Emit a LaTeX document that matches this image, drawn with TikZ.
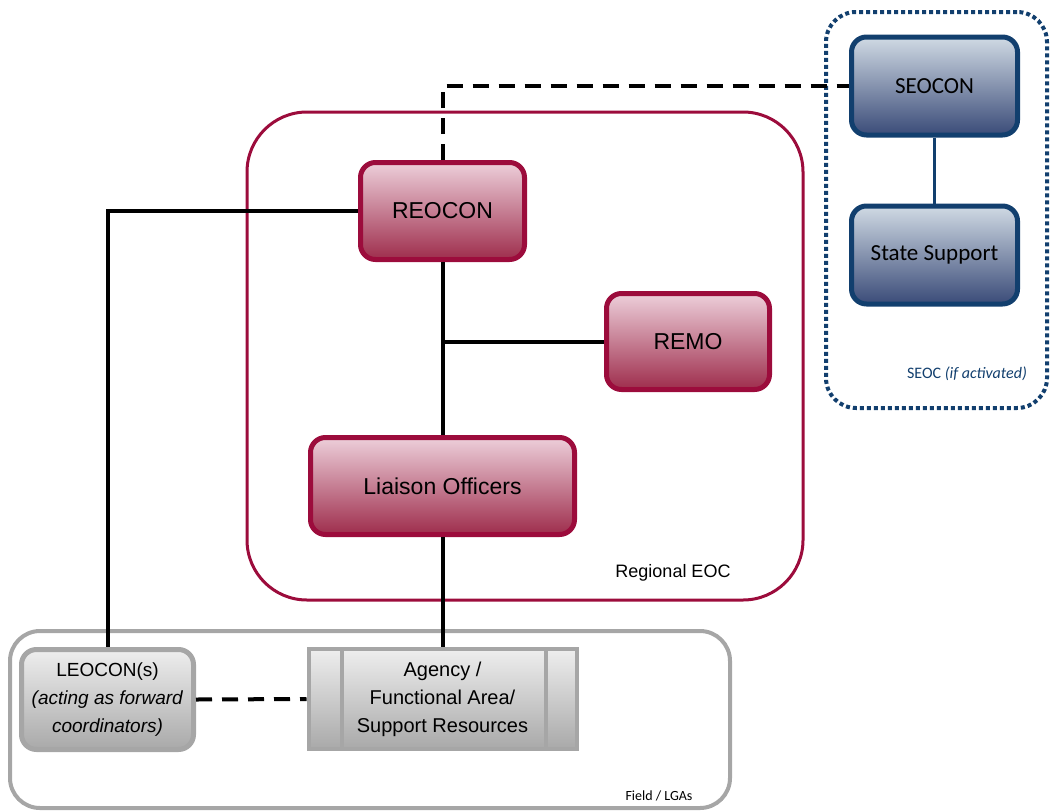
\documentclass[tikz,border=0pt]{standalone}
\usepackage{fontspec}
\setmainfont{Liberation Sans}
\newfontfamily\calibrifont{Carlito}
\definecolor{crim}{HTML}{9C0C3C}
\definecolor{crimtop}{HTML}{EDCFDA}
\definecolor{crimbot}{HTML}{9E2D4C}
\definecolor{navy}{HTML}{123F6E}
\definecolor{navytop}{HTML}{D0DAE4}
\definecolor{navybot}{HTML}{3A4B78}
\definecolor{gborder}{HTML}{A6A6A6}
\definecolor{gtop}{HTML}{EEEEEE}
\definecolor{gbot}{HTML}{A9A9A9}
\begin{document}
\begin{tikzpicture}[x=1pt,y=-1pt,
  redbox/.style={draw=crim, line width=5pt, rounded corners=15pt, top color=crimtop, bottom color=crimbot, inner sep=0pt, font=\fontsize{23}{27}\selectfont},
  bluebox/.style={draw=navy, line width=5pt, rounded corners=15pt, top color=navytop, bottom color=navybot, inner sep=0pt, font=\calibrifont\fontsize{23}{27}\selectfont},
  greybox/.style={draw=gborder, line width=5pt, rounded corners=15pt, top color=gtop, bottom color=gbot, inner sep=0pt, align=center, font=\fontsize{19}{28}\selectfont},
  conn/.style={line width=4pt, black},
  dconn/.style={line width=4pt, black, dash pattern=on 16pt off 10pt},
  container/.style={inner sep=0pt}]
\useasboundingbox (0,0) rectangle (1051,811);
% containers
\node[container, draw=crim, line width=3pt, rounded corners=60pt, minimum width=556pt, minimum height=488pt] (reoc) at (525,356) {};
\node[container, draw=gborder, line width=4pt, rounded corners=30pt, minimum width=720pt, minimum height=177pt] (field) at (370,719.5) {};
\node[container, draw=navy, line width=4pt, dash pattern=on 4pt off 3pt, rounded corners=30pt, minimum width=221pt, minimum height=396pt] (seoc) at (936.5,210) {};
% boxes
\node[redbox, minimum width=164pt, minimum height=97pt] (reocon) at (442.5,211) {REOCON};
\node[redbox, minimum width=163pt, minimum height=96pt] (remo) at (688,341.5) {REMO};
\node[redbox, minimum width=264pt, minimum height=97pt] (liaison) at (442.5,486) {Liaison Officers};
\node[bluebox, minimum width=166pt, minimum height=98pt] (seocon) at (934.5,86) {SEOCON};
\node[bluebox, minimum width=166pt, minimum height=98pt] (state) at (934.5,255) {State Support};
\node[greybox, minimum width=172pt, minimum height=100pt] (leocon) at (107.5,699.5) {LEOCON(s)\\\textit{(acting as forward}\\\textit{coordinators)}};
\node[draw=gborder, line width=4pt, top color=gtop, bottom color=gbot, inner sep=0pt, minimum width=268pt, minimum height=100pt, align=center, font=\fontsize{20}{28}\selectfont] (agency) at (442.5,699) {Agency /\\Functional Area/\\Support Resources};
\draw[gborder, line width=4pt] ([xshift=35pt]agency.north west) -- ([xshift=35pt]agency.south west);
\draw[gborder, line width=4pt] ([xshift=-33pt]agency.north east) -- ([xshift=-33pt]agency.south east);
% labels
\node[font=\fontsize{18}{22}\selectfont, anchor=center] (lreoc) at (673,573) {Regional EOC};
\node[font=\calibrifont\fontsize{14}{17}\selectfont] (lfield) at (659,796) {Field / LGAs};
\node[font=\calibrifont\fontsize{16}{19}\selectfont, text=navy] (lseoc) at (967,374) {SEOC \textit{(if activated)}};
% connectors
\draw[dconn] (reocon.north) -- (reocon.north |- seocon.west) -- (seocon.west);
\draw[navy, line width=3pt] (seocon.south) -- (state.north);
\draw[conn] (reocon.south) -- (liaison.north);
\draw[conn] (reocon.south |- remo.west) -- (remo.west);
\draw[conn] (reocon.west) -| (leocon.north);
\draw[conn] (liaison.south) -- (agency.north);
\draw[dconn] (leocon.east) -- (agency.west);
\end{tikzpicture}
\end{document}
